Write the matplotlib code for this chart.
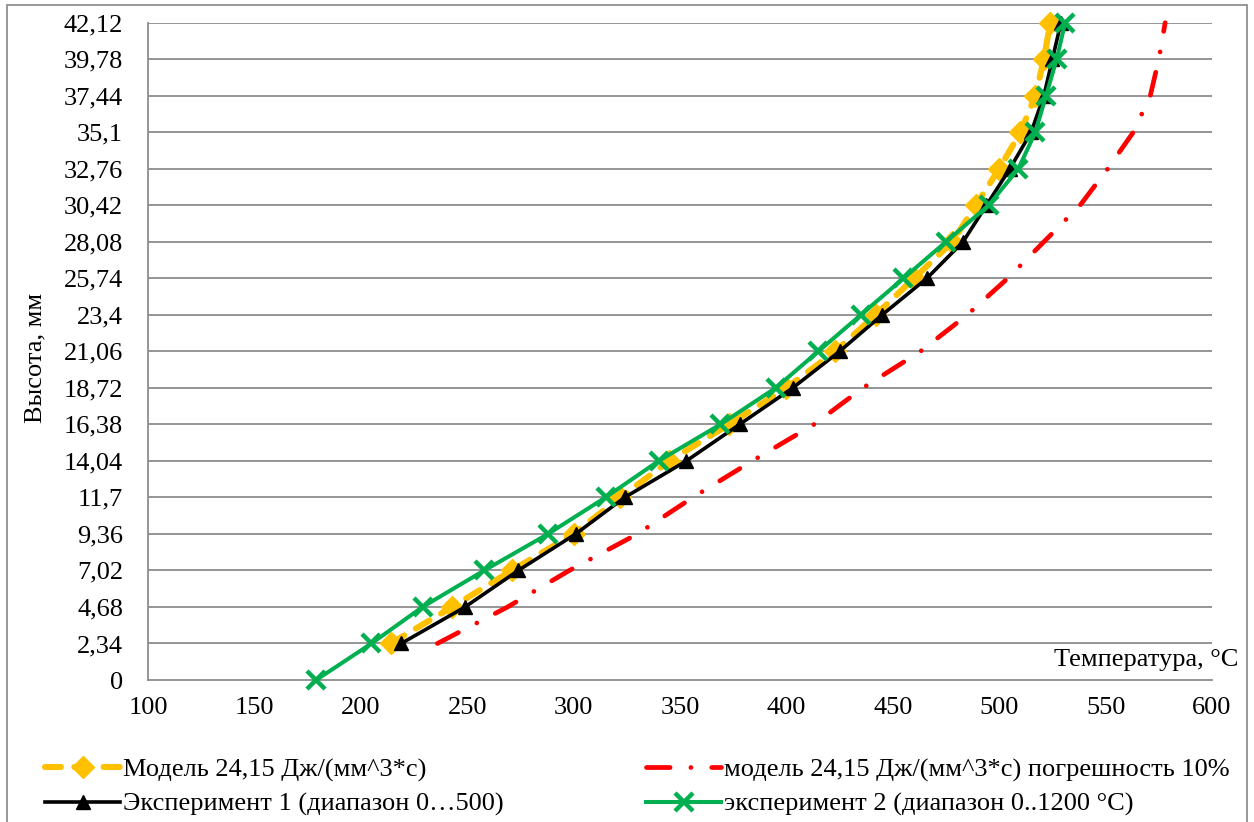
import matplotlib
matplotlib.use("Agg")
import matplotlib.pyplot as plt
from matplotlib.patches import Rectangle

plt.rcParams['font.family'] = ['Liberation Serif', 'DejaVu Serif']

levels = [0, 2.34, 4.68, 7.02, 9.36, 11.7, 14.04, 16.38, 18.72, 21.06, 23.4,
          25.74, 28.08, 30.42, 32.76, 35.1, 37.44, 39.78, 42.12]
level_labels = ["0", "2,34", "4,68", "7,02", "9,36", "11,7", "14,04", "16,38",
                "18,72", "21,06", "23,4", "25,74", "28,08", "30,42", "32,76",
                "35,1", "37,44", "39,78", "42,12"]
x_ticks = [100, 150, 200, 250, 300, 350, 400, 450, 500, 550, 600]

# series (height levels from 2.34 for the first three, from 0 for the last)
model = [214, 243, 271, 300, 322, 345, 373, 400, 423, 442, 460, 478, 489, 500,
         510, 517, 521, 524]
model_err = [236, 269, 298, 330, 356, 384, 413, 436, 463, 485, 504, 521, 538,
             551, 563, 571, 575, 578]
exp1 = [219, 249, 274, 301, 324, 353, 378, 403, 425, 445, 466, 483, 494, 505,
        515, 521, 525, 529]
exp2 = [179, 205, 229, 258, 288, 315, 340, 369, 395, 415, 435, 455, 475, 495,
        509, 517, 522, 527, 531]

names = ["Модель 24,15 Дж/(мм^3*с)",
         "модель 24,15 Дж/(мм^3*с) погрешность 10%",
         "Эксперимент 1 (диапазон 0…500)",
         "эксперимент 2 (диапазон 0..1200 °C)"]

W, H = 1254, 822
fig = plt.figure(figsize=(W / 100, H / 100), dpi=100)
fig.patches.append(Rectangle((7 / W, -0.01), (1247 - 7) / W, (H - 5) / H + 0.01,
                             transform=fig.transFigure, fill=False,
                             edgecolor='#868686', linewidth=1.2))

ax = fig.add_axes([148 / W, 1 - 680 / H, (1212 - 148) / W, (680 - 22.7) / H])
ax.set_xlim(100, 600)
ax.set_ylim(0, 42.12)

for y in levels[1:]:
    ax.axhline(y, color='#8c8c8c', linewidth=1.3, zorder=1)

fs = 19
l1, = ax.plot(model, levels[1:], color='#FFC000', linewidth=4.4,
              linestyle=(0, (2.6, 2.2)), dash_capstyle='round',
              marker='D', markersize=11,
              markerfacecolor='#FFC000', markeredgecolor='#FFC000',
              zorder=3, clip_on=False)
l2, = ax.plot(model_err, levels[1:], color='#FF0000', linewidth=3.4,
              linestyle=(0, (5, 4.4, 0.01, 4.4)), dash_capstyle='round',
              zorder=2, clip_on=False)
l3, = ax.plot(exp1, levels[1:], color='black', linewidth=2.6, marker='^',
              markersize=10, zorder=4, clip_on=False)
l4, = ax.plot(exp2, levels, color='#00B050', linewidth=2.9, marker='x',
              markersize=13, markeredgewidth=3.2, zorder=5, clip_on=False)

ax.set_yticks(levels)
ax.set_yticklabels(level_labels)
ax.set_xticks(x_ticks)
ax.tick_params(axis='both', length=0, labelsize=fs)
ax.tick_params(axis='y', pad=18)
ax.tick_params(axis='x', pad=12)

for s in ['top', 'right']:
    ax.spines[s].set_visible(False)
for s in ['left', 'bottom']:
    ax.spines[s].set_color('#8c8c8c')
    ax.spines[s].set_linewidth(1.3)

fig.text(35 / W, 1 - 358 / H, "Высота, мм", rotation=90, fontsize=fs,
         ha='center', va='center')
fig.text(1238 / W, 1 - 660 / H, "Температура, °C", fontsize=fs,
         ha='right', va='center')

# column-wise fill: left column = Model, Exp1; right column = Model err, Exp2
leg = fig.legend([l1, l3, l2, l4], [names[0], names[2], names[1], names[3]],
                 loc='upper left', bbox_to_anchor=(45 / W, 1 - 758 / H),
                 ncol=2, frameon=False, fontsize=fs, handlelength=2.85,
                 handletextpad=0.1, columnspacing=5.4, labelspacing=0.4,
                 borderpad=0, borderaxespad=0)

fig.savefig("out.png", dpi=100)
